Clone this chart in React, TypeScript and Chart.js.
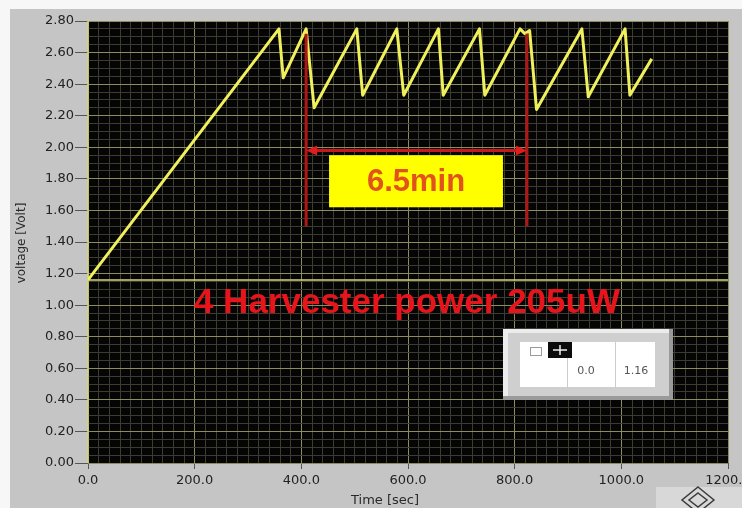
import React, { useEffect, useRef } from "react";
import { Chart, registerables } from "chart.js";

Chart.register(...registerables);

// ---- data ----
const timeSec = [0, 358, 366, 409, 424, 504, 515, 579, 592, 657, 666, 734, 744, 810, 819, 828, 841, 926, 938, 1007, 1016, 1057];
const voltageV = [1.16, 2.75, 2.44, 2.75, 2.25, 2.75, 2.33, 2.75, 2.33, 2.75, 2.33, 2.75, 2.33, 2.75, 2.72, 2.74, 2.24, 2.75, 2.32, 2.75, 2.33, 2.56];

const xRange = [0, 1200];
const xMajorStep = 200;
const xMinorStep = 20;
const yRange = [0, 2.8];
const yMajorStep = 0.2;
const yMinorStep = 0.05;

const cursorTime = 0.0;
const cursorVolt = 1.16;

const markerTimes = [409, 823];
const markerVolts = [1.5, 2.72];
const spanVolt = 1.98;
const spanLabel = "6.5min";
const spanBoxTimes = [452, 778];
const spanBoxVolts = [1.62, 1.95];

const noteText = "4 Harvester power 205uW";
const noteTime = 598;
const noteVolt = 1.01;

const xTitle = "Time [sec]";
const yTitle = "voltage [Volt]";

const isMajor = (v: number, step: number) => Math.abs(v / step - Math.round(v / step)) < 1e-6;

const MAJOR = "#8c8c5c";
const MINOR = "#3c3c30";
const TICKFONT = { family: "DejaVu Sans", size: 13 };

const decor = {
  id: "decor",
  beforeDraw(chart: any) {
    const { ctx, width, height, chartArea: a } = chart;
    ctx.save();
    ctx.fillStyle = "#f7f7f7";
    ctx.fillRect(0, 0, width, height);
    ctx.fillStyle = "#c5c5c5";
    ctx.fillRect(10, 9, width - 10, height - 9);
    // corner button
    ctx.fillStyle = "#d8d8d8";
    ctx.fillRect(656, 487, width - 656, height - 487);
    ctx.strokeStyle = "#3c3c3c";
    ctx.lineWidth = 1.5;
    ctx.beginPath();
    ctx.moveTo(698, 487);
    ctx.lineTo(714, 500);
    ctx.lineTo(698, 513);
    ctx.lineTo(682, 500);
    ctx.closePath();
    ctx.stroke();
    ctx.beginPath();
    ctx.moveTo(698, 493);
    ctx.lineTo(707, 500);
    ctx.lineTo(698, 507);
    ctx.lineTo(689, 500);
    ctx.closePath();
    ctx.stroke();
    // plot background
    ctx.fillStyle = "#050505";
    ctx.fillRect(a.left, a.top, a.right - a.left, a.bottom - a.top);
    ctx.restore();
  },
  beforeDatasetsDraw(chart: any) {
    const { ctx, chartArea: a, scales } = chart;
    const y = scales.y.getPixelForValue(cursorVolt);
    const x = scales.x.getPixelForValue(cursorTime);
    ctx.save();
    ctx.strokeStyle = "#d6d674";
    ctx.lineWidth = 1.5;
    ctx.beginPath();
    ctx.moveTo(a.left, y);
    ctx.lineTo(a.right, y);
    ctx.moveTo(x, a.top);
    ctx.lineTo(x, a.bottom);
    ctx.stroke();
    ctx.restore();
  },
  afterDatasetsDraw(chart: any) {
    const { ctx, scales } = chart;
    const sx = scales.x, sy = scales.y;
    ctx.save();
    // red markers
    ctx.strokeStyle = "#b01616";
    ctx.lineWidth = 3;
    const yTop = sy.getPixelForValue(markerVolts[1]);
    const yBot = sy.getPixelForValue(markerVolts[0]);
    const x1 = sx.getPixelForValue(markerTimes[0]);
    const x2 = sx.getPixelForValue(markerTimes[1]);
    ctx.beginPath();
    ctx.moveTo(x1, yTop);
    ctx.lineTo(x1, yBot);
    ctx.moveTo(x2, yTop);
    ctx.lineTo(x2, yBot);
    ctx.stroke();
    const ya = sy.getPixelForValue(spanVolt);
    ctx.strokeStyle = "#c81818";
    ctx.beginPath();
    ctx.moveTo(x1 + 6, ya);
    ctx.lineTo(x2 - 6, ya);
    ctx.stroke();
    ctx.fillStyle = "#e01c1c";
    ctx.beginPath();
    ctx.moveTo(x1, ya);
    ctx.lineTo(x1 + 11, ya - 5);
    ctx.lineTo(x1 + 11, ya + 5);
    ctx.closePath();
    ctx.fill();
    ctx.beginPath();
    ctx.moveTo(x2, ya);
    ctx.lineTo(x2 - 11, ya - 5);
    ctx.lineTo(x2 - 11, ya + 5);
    ctx.closePath();
    ctx.fill();
    // yellow box
    const bx1 = sx.getPixelForValue(spanBoxTimes[0]);
    const bx2 = sx.getPixelForValue(spanBoxTimes[1]);
    const by1 = sy.getPixelForValue(spanBoxVolts[1]);
    const by2 = sy.getPixelForValue(spanBoxVolts[0]);
    ctx.fillStyle = "#ffff00";
    ctx.fillRect(bx1, by1, bx2 - bx1, by2 - by1);
    ctx.fillStyle = "#e2521c";
    ctx.font = "bold 31px 'Liberation Sans', Arial, sans-serif";
    ctx.textAlign = "center";
    ctx.textBaseline = "middle";
    ctx.fillText(spanLabel, (bx1 + bx2) / 2, (by1 + by2) / 2 + 1);
    // note
    ctx.fillStyle = "#e8141c";
    ctx.font = "bold 35px 'Liberation Sans', Arial, sans-serif";
    ctx.fillText(noteText, sx.getPixelForValue(noteTime), sy.getPixelForValue(noteVolt));
    ctx.restore();
  },
  afterDraw(chart: any) {
    const { ctx } = chart;
    ctx.save();
    ctx.fillStyle = "#2a2a2a";
    ctx.font = "13px 'DejaVu Sans'";
    ctx.textAlign = "center";
    ctx.textBaseline = "middle";
    ctx.fillText(xTitle, 385, 501);
    ctx.save();
    ctx.translate(22, 243);
    ctx.rotate(-Math.PI / 2);
    ctx.font = "12px 'DejaVu Sans'";
    ctx.fillText(yTitle, 0, 0);
    ctx.restore();
    // cursor legend panel
    ctx.fillStyle = "#cfcfcf";
    ctx.fillRect(503, 329, 170, 71);
    ctx.fillStyle = "#ececec";
    ctx.fillRect(503, 329, 170, 4);
    ctx.fillRect(503, 329, 5, 71);
    ctx.fillStyle = "#9a9a9a";
    ctx.fillRect(503, 396, 170, 4);
    ctx.fillRect(669, 329, 4, 71);
    ctx.fillStyle = "#ffffff";
    ctx.fillRect(520, 342, 135, 45);
    ctx.strokeStyle = "#cccccc";
    ctx.lineWidth = 1;
    ctx.beginPath();
    ctx.moveTo(567.5, 358);
    ctx.lineTo(567.5, 387);
    ctx.moveTo(615.5, 342);
    ctx.lineTo(615.5, 387);
    ctx.stroke();
    ctx.strokeStyle = "#9a9a9a";
    ctx.strokeRect(530.5, 347.5, 11, 8);
    ctx.fillStyle = "#0c0c0c";
    ctx.fillRect(548, 342, 24, 16);
    ctx.strokeStyle = "#f0f0f0";
    ctx.lineWidth = 1.5;
    ctx.beginPath();
    ctx.moveTo(553, 350);
    ctx.lineTo(567, 350);
    ctx.moveTo(560, 345);
    ctx.lineTo(560, 355);
    ctx.stroke();
    ctx.fillStyle = "#555555";
    ctx.font = "11px 'DejaVu Sans'";
    ctx.fillText(cursorTime.toFixed(1), 586, 371);
    ctx.fillText(cursorVolt.toFixed(2), 636, 371);
    ctx.restore();
  },
};

export default function App() {
  const ref = useRef<HTMLCanvasElement | null>(null);
  useEffect(() => {
    document.body.style.margin = "0";
    const canvas = ref.current;
    if (!canvas) return;
    const chart = new Chart(canvas, {
      type: "line",
      data: {
        datasets: [
          {
            data: timeSec.map((t, i) => ({ x: t, y: voltageV[i] })),
            borderColor: "#f0f05c",
            borderWidth: 3,
            pointRadius: 0,
            tension: 0,
            borderJoinStyle: "round",
          },
        ],
      },
      options: {
        animation: false,
        responsive: false,
        devicePixelRatio: 1,
        layout: { padding: { left: 10, top: 21, right: 14, bottom: 0 } },
        plugins: { legend: { display: false }, tooltip: { enabled: false } },
        scales: {
          x: {
            type: "linear",
            min: xRange[0],
            max: xRange[1],
            border: { display: false },
            grid: {
              color: (c: any) => (isMajor(c.tick.value, xMajorStep) ? MAJOR : MINOR),
              tickColor: (c: any) => (isMajor(c.tick.value, xMajorStep) ? "#555555" : "rgba(0,0,0,0)"),
              tickLength: 6,
              lineWidth: 1,
            },
            ticks: {
              stepSize: xMinorStep,
              autoSkip: false,
              maxRotation: 0,
              padding: 4,
              color: "#222222",
              font: TICKFONT,
              callback: (v: any) => (isMajor(Number(v), xMajorStep) ? Number(v).toFixed(1) : ""),
            },
            afterFit: (s: any) => {
              s.height = 45;
              s.paddingLeft = 0;
              s.paddingRight = 0;
            },
          },
          y: {
            type: "linear",
            min: yRange[0],
            max: yRange[1],
            border: { display: false },
            grid: {
              color: (c: any) => (isMajor(c.tick.value, yMajorStep) ? MAJOR : MINOR),
              tickColor: (c: any) => (isMajor(c.tick.value, yMajorStep) ? "#555555" : "rgba(0,0,0,0)"),
              tickLength: 13,
              lineWidth: 1,
            },
            ticks: {
              stepSize: yMinorStep,
              autoSkip: false,
              padding: 1,
              color: "#222222",
              font: TICKFONT,
              callback: (v: any) => (isMajor(Number(v), yMajorStep) ? Number(v).toFixed(2) : ""),
            },
            afterFit: (s: any) => {
              s.width = 78;
              s.paddingTop = 0;
              s.paddingBottom = 0;
            },
          },
        },
      },
      plugins: [decor],
    } as any);
    return () => chart.destroy();
  }, []);
  return <canvas ref={ref} width={742} height={508} style={{ display: "block" }} />;
}
